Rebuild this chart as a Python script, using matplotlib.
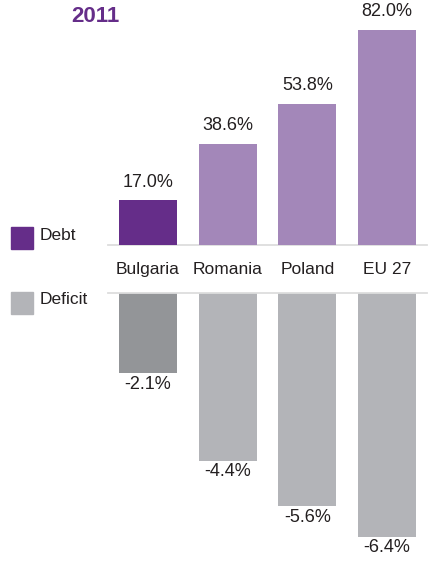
import matplotlib
matplotlib.use("Agg")
import matplotlib.pyplot as plt
from matplotlib.patches import Rectangle

plt.rcParams['font.family'] = ['Liberation Sans', 'DejaVu Sans']

countries = ["Bulgaria", "Romania", "Poland", "EU 27"]
debt = [17.0, 38.6, 53.8, 82.0]
deficit = [-2.1, -4.4, -5.6, -6.4]
debt_colors = ["#652D89", "#A387B9", "#A387B9", "#A387B9"]
deficit_colors = ["#939598", "#B3B4B8", "#B3B4B8", "#B3B4B8"]
title = "2011"

W, H = 432, 569
fig = plt.figure(figsize=(W / 100, H / 100), dpi=100)

ax_top = fig.add_axes([108 / W, (H - 245) / H, 319 / W, 245 / H])
ax_bot = fig.add_axes([108 / W, 0, 319 / W, (H - 293) / H])

x = list(range(len(countries)))
bw = 0.725

ax_top.bar(x, debt, width=bw, color=debt_colors, zorder=2)
ax_top.set_xlim(-0.5, 3.5)
ax_top.set_ylim(0, 93.4)
ax_top.axhline(0, color="#DDDDDD", lw=1.3, zorder=1, clip_on=False)
for xi, v in zip(x, debt):
    ax_top.annotate(f"{v:.1f}%", (xi, v), xytext=(0, 7), textcoords="offset points",
                    ha="center", va="bottom", fontsize=13, color="#231F20")
ax_top.set_xticks(x)
ax_top.set_xticklabels(countries, fontsize=12.5, color="#231F20")
ax_top.tick_params(axis="x", length=0, pad=12)
ax_top.set_yticks([])

ax_bot.bar(x, deficit, width=bw, color=deficit_colors, zorder=2)
ax_bot.set_xlim(-0.5, 3.5)
ax_bot.set_ylim(-7.25, 0)
ax_bot.axhline(0, color="#DDDDDD", lw=1.3, zorder=3, clip_on=False)
for xi, v in zip(x, deficit):
    ax_bot.annotate(f"{v:.1f}%", (xi, v), xytext=(0, -2), textcoords="offset points",
                    ha="center", va="top", fontsize=13, color="#231F20")
ax_bot.set_xticks([])
ax_bot.set_yticks([])

for ax in (ax_top, ax_bot):
    for s in ax.spines.values():
        s.set_visible(False)
    ax.patch.set_alpha(0)

# Title
fig.text(95 / W, 1 - 16 / H, title, ha="center", va="center", fontsize=16,
         fontweight="bold", color="#652D89")

# Legend
fig.patches.append(Rectangle((11 / W, 1 - 249 / H), 22 / W, 22 / H,
                             transform=fig.transFigure, color="#652D89"))
fig.text(40 / W, 1 - 236 / H, "Debt", ha="left", va="center", fontsize=12.5, color="#231F20")
fig.patches.append(Rectangle((11 / W, 1 - 314 / H), 22 / W, 22 / H,
                             transform=fig.transFigure, color="#B3B4B8"))
fig.text(40 / W, 1 - 300 / H, "Deficit", ha="left", va="center", fontsize=12.5, color="#231F20")

fig.savefig("out.png", dpi=100)
